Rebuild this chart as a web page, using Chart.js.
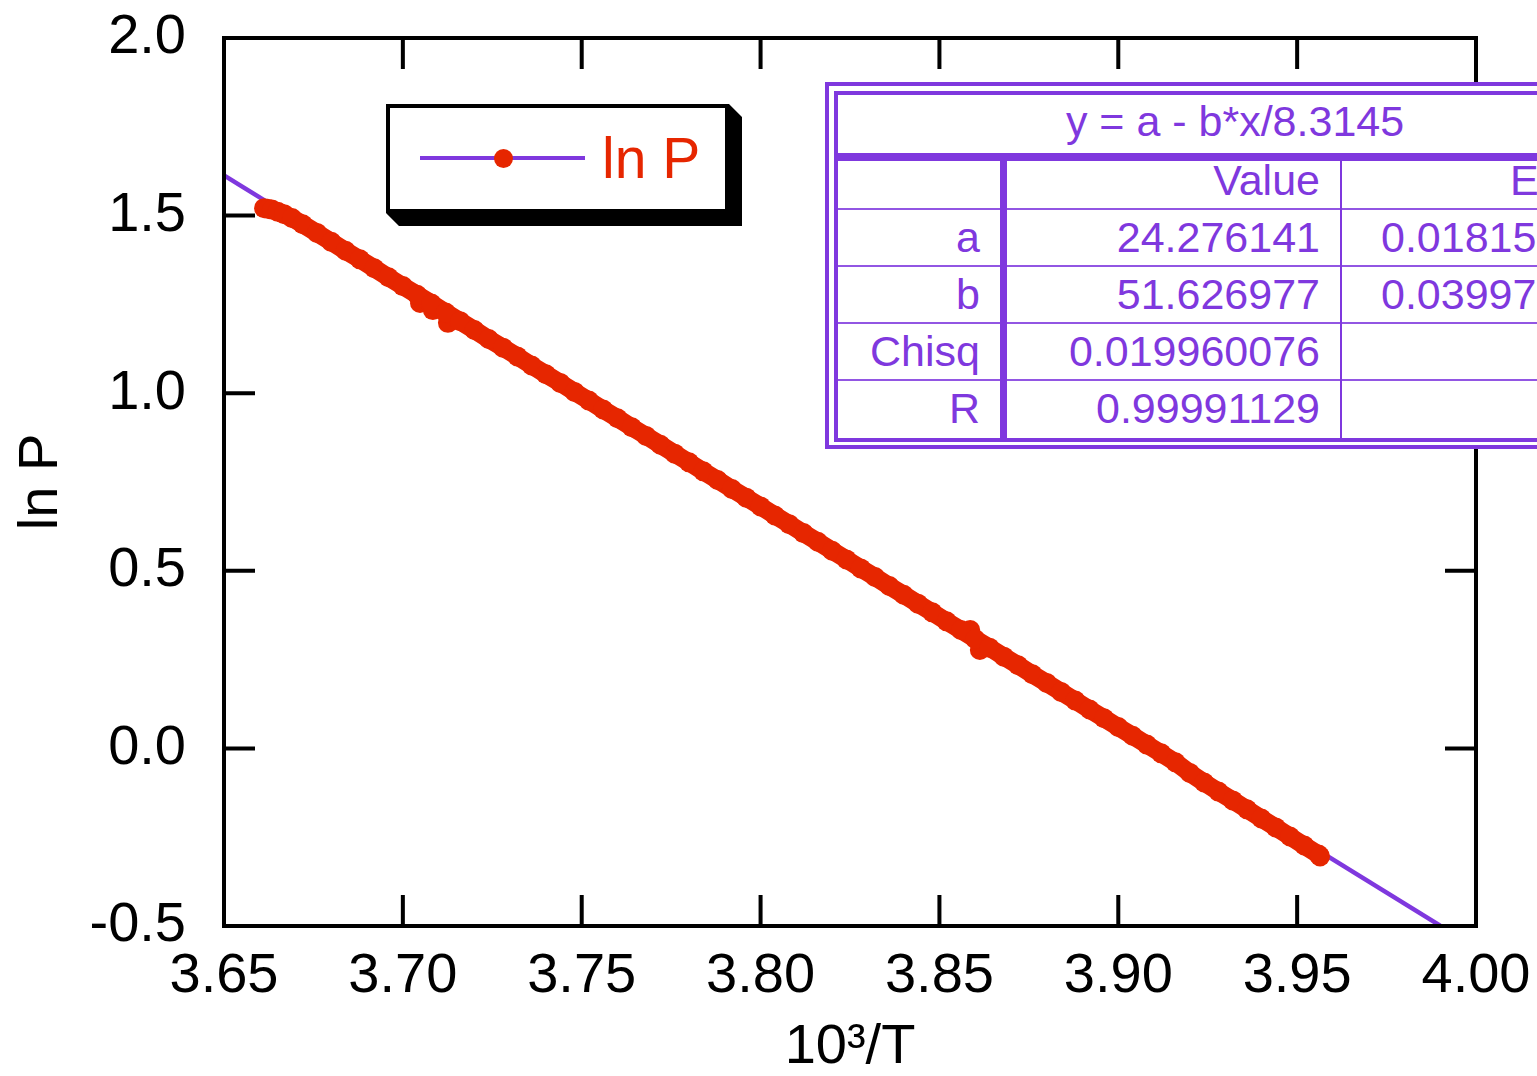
<!DOCTYPE html>
<html><head><meta charset="utf-8">
<script src="https://cdn.jsdelivr.net/npm/chart.js@4.4.1/dist/chart.umd.min.js"></script>
<style>
html,body{margin:0;padding:0;background:#fff;}
#wrap{position:relative;width:1537px;height:1076px;overflow:hidden;background:#fff;font-family:"Liberation Sans",Arial,Helvetica,sans-serif;}
#c{position:absolute;left:0;top:0;}
.a{position:absolute;box-sizing:border-box;white-space:nowrap;}
</style></head><body>
<div id="wrap">
<canvas id="c" width="1537" height="1076"></canvas>
<div id="legend"></div>
<div id="fit"></div>
</div>
<script>
// ---- data ----
const lnPx = [3.6612,3.6622,3.6634,3.6650,3.6668,3.6690,
3.672,3.676,3.680,3.684,3.688,3.692,3.696,3.700,3.704,3.708,3.712,3.716,3.720,3.724,3.728,3.732,3.736,3.740,3.744,3.748,
3.752,3.756,3.760,3.764,3.768,3.772,3.776,3.780,3.784,3.788,3.792,3.796,3.800,3.804,3.808,3.812,3.816,3.820,3.824,3.828,
3.832,3.836,3.840,3.844,3.848,3.852,3.856,3.860,3.864,3.868,3.872,3.876,3.880,3.884,3.888,3.892,3.896,3.900,3.904,3.908,
3.912,3.916,3.920,3.924,3.928,3.932,3.936,3.940,3.944,3.948,3.952,3.956,3.9564];
const lnPy = [1.521,1.519,1.517,1.511,1.504,1.4933,
1.4755,1.4512,1.4262,1.4010,1.3768,1.3518,1.3263,1.3015,1.2772,1.2525,1.2270,1.2028,1.1780,1.1525,1.1282,1.1035,1.0780,1.0533,1.0290,1.0036,
0.9792,0.9540,0.9296,0.9041,0.8798,0.8549,0.8297,0.8053,0.7800,0.7556,0.7303,0.7059,0.6812,0.6558,0.6314,0.6061,0.5818,0.5565,0.5320,0.5068,
0.4825,0.4571,0.4327,0.4074,0.3830,0.3578,0.3334,0.3080,0.2836,0.2583,0.2340,0.2087,0.1843,0.1590,0.1346,0.1094,0.0850,0.0601,0.0355,0.0108,
-0.0140,-0.0392,-0.0690,-0.0960,-0.1215,-0.1465,-0.1715,-0.1975,-0.2225,-0.2480,-0.2735,-0.2990,-0.3040];
const strayX = [3.7048,3.7084,3.7126,3.8586,3.8613];
const strayY = [1.254,1.234,1.198,0.333,0.277];
const fitX = [3.65,3.99];
const fitY = [1.613,-0.499];
const xTickValues = [3.65,3.70,3.75,3.80,3.85,3.90,3.95,4.00];
const xTickLabels = ['3.65','3.70','3.75','3.80','3.85','3.90','3.95','4.00'];
const yTickValues = [-0.5,0.0,0.5,1.0,1.5,2.0];
const yTickLabels = ['-0.5','0.0','0.5','1.0','1.5','2.0'];
const xTitle = '10³/T';
const yTitle = 'ln P';
const legendLabel = 'ln P';
const fitTitle = 'y = a - b*x/8.3145';
const fitHeader = ['', 'Value', 'Error'];
const fitRowNames = ['a','b','Chisq','R'];
const fitValues = ['24.276141','51.626977','0.019960076','0.99991129'];
const fitErrors = ['0.018154','0.039972','',''];

// ---- styles ----
const F = '"Liberation Sans", Arial, Helvetica, sans-serif';
const RED = 'rgb(230,38,0)';
const PUR = 'rgb(127,56,222)';

const toPts = (xs, ys) => xs.map((x, i) => ({x: x, y: ys[i]}));
const noPad = s => { s.paddingTop = 0; s.paddingBottom = 0; s.paddingLeft = 0; s.paddingRight = 0; };

const framePlugin = {
  id: 'frame',
  afterDatasetsDraw(chart) {
    const {ctx, chartArea: {left, right, top, bottom}, scales: {x, y}} = chart;
    ctx.save();
    ctx.strokeStyle = '#000';
    ctx.lineWidth = 4;
    ctx.lineCap = 'square';
    ctx.strokeRect(left, top, right - left, bottom - top);
    ctx.lineCap = 'butt';
    const L = 31;
    ctx.beginPath();
    xTickValues.forEach(v => {
      const p = x.getPixelForValue(v);
      ctx.moveTo(p, bottom); ctx.lineTo(p, bottom - L);
      ctx.moveTo(p, top); ctx.lineTo(p, top + L);
    });
    yTickValues.forEach(v => {
      const p = y.getPixelForValue(v);
      ctx.moveTo(left, p); ctx.lineTo(left + L, p);
      ctx.moveTo(right, p); ctx.lineTo(right - L, p);
    });
    ctx.stroke();
    ctx.restore();
  }
};

new Chart(document.getElementById('c'), {
  type: 'scatter',
  data: {
    datasets: [
      {label: 'ln P', data: toPts(lnPx, lnPy), showLine: true, borderColor: RED, borderWidth: 18,
       borderJoinStyle: 'round', borderCapStyle: 'round', pointRadius: 10, pointBackgroundColor: RED,
       pointBorderWidth: 0, order: 0},
      {label: 'ln P stray', data: toPts(strayX, strayY), showLine: false, pointRadius: 10,
       pointBackgroundColor: RED, pointBorderWidth: 0, order: 0},
      {label: 'fit', data: toPts(fitX, fitY), showLine: true, borderColor: PUR, borderWidth: 4.5,
       pointRadius: 0, order: 2}
    ]
  },
  options: {
    responsive: false,
    animation: false,
    devicePixelRatio: 1,
    layout: {padding: {left: 0, right: 61, top: 38, bottom: 0}},
    plugins: {legend: {display: false}, tooltip: {enabled: false}},
    scales: {
      x: {
        type: 'linear', position: 'bottom', min: 3.65, max: 4.0,
        afterBuildTicks: s => { s.ticks = xTickValues.map(v => ({value: v})); },
        afterFit: s => { s.height = 150; noPad(s); },
        grid: {display: false, drawTicks: false},
        border: {display: false},
        ticks: {autoSkip: false, maxRotation: 0, padding: 17, color: '#000',
                font: {family: F, size: 56}, callback: (v, i) => xTickLabels[i]},
        title: {display: true, text: xTitle, color: '#000', font: {family: F, size: 56, lineHeight: 1},
                padding: {top: 0, bottom: 0}}
      },
      y: {
        type: 'linear', position: 'left', min: -0.5, max: 2.0,
        afterBuildTicks: s => { s.ticks = yTickValues.map(v => ({value: v})); },
        afterFit: s => { s.width = 224; noPad(s); },
        grid: {display: false, drawTicks: false},
        border: {display: false},
        ticks: {autoSkip: false, padding: 38, color: '#000',
                font: {family: F, size: 56}, callback: (v, i) => yTickLabels[i]},
        title: {display: true, text: yTitle, color: '#000', font: {family: F, size: 56, lineHeight: 1},
                padding: {top: 14, bottom: 0}}
      }
    }
  },
  plugins: [framePlugin]
});

// ---- legend overlay ----
function el(parent, css, text) {
  const d = document.createElement('div');
  d.className = 'a';
  d.style.cssText = css;
  if (text !== undefined) d.textContent = text;
  parent.appendChild(d);
  return d;
}
const lg = document.getElementById('legend');
el(lg, 'left:386px;top:104px;width:356px;height:122px;background:#000;clip-path:polygon(343px 0,356px 13px,356px 122px,13px 122px,0 109px,343px 109px);');
el(lg, 'left:386px;top:104px;width:343px;height:109px;border:4px solid #000;background:#fff;');
el(lg, 'left:420px;top:156px;width:165px;height:4px;background:' + PUR + ';');
el(lg, 'left:494px;top:149px;width:19px;height:19px;border-radius:50%;background:' + RED + ';');
el(lg, 'left:602px;top:130px;font-size:57px;line-height:57px;color:' + RED + ';', legendLabel);

// ---- fit result table overlay ----
const ft = document.getElementById('fit');
el(ft, 'left:825px;top:82px;width:820px;height:367px;border:4px solid ' + PUR + ';background:#fff;');
el(ft, 'left:834px;top:91px;width:802px;height:351px;border:4px solid ' + PUR + ';');
el(ft, 'left:838px;top:153px;width:794px;height:8px;background:' + PUR + ';');
[208, 265, 322, 379].forEach(t => el(ft, 'left:838px;top:' + t + 'px;width:794px;height:2px;background:rgba(127,56,222,0.85);'));
el(ft, 'left:1000px;top:161px;width:7px;height:277px;background:' + PUR + ';');
el(ft, 'left:1340px;top:161px;width:2px;height:277px;background:' + PUR + ';');
const TS = 'font-size:43px;line-height:57px;height:57px;color:' + PUR + ';';
el(ft, 'left:838px;top:93px;width:794px;text-align:center;' + TS, fitTitle);
const centers = [180, 237, 294, 351, 408];
el(ft, 'left:1007px;top:' + (centers[0] - 28.5) + 'px;width:313px;text-align:right;' + TS, fitHeader[1]);
el(ft, 'left:1510px;top:' + (centers[0] - 28.5) + 'px;' + TS, fitHeader[2]);
fitRowNames.forEach((n, i) => {
  const t = centers[i + 1] - 28.5;
  el(ft, 'left:838px;top:' + t + 'px;width:142px;text-align:right;' + TS, n);
  el(ft, 'left:1007px;top:' + t + 'px;width:313px;text-align:right;' + TS, fitValues[i]);
  if (fitErrors[i]) el(ft, 'left:1381px;top:' + t + 'px;' + TS, fitErrors[i]);
});
</script>
</body></html>
